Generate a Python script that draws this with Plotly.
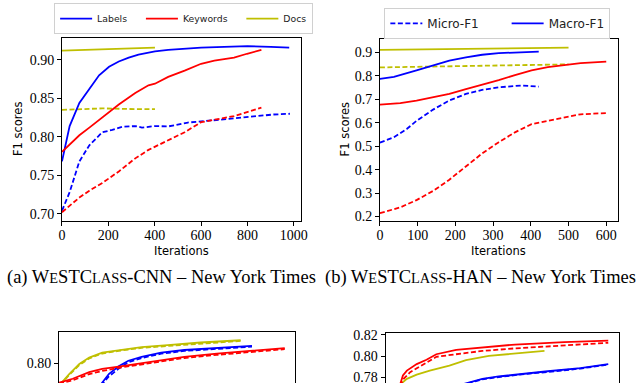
import plotly.graph_objects as go

BLUE = "#0000ff"
RED = "#ff0000"
YEL = "#bfbf00"

# ---------- (a) WeSTClass-CNN ----------
a_lab_mac_x = [0, 33, 75, 118, 160, 203, 245, 288, 330, 401, 458, 600, 742, 800, 900, 980]
a_lab_mac_y = [0.768, 0.814, 0.844, 0.863, 0.880, 0.891, 0.898, 0.903, 0.907, 0.911, 0.913, 0.916, 0.917, 0.918, 0.917, 0.916]
a_lab_mic_x = [0, 33, 75, 118, 174, 217, 260, 316, 345, 401, 458, 543, 600, 742, 827, 912, 983]
a_lab_mic_y = [0.704, 0.728, 0.768, 0.789, 0.806, 0.809, 0.813, 0.814, 0.812, 0.814, 0.8135, 0.8186, 0.820, 0.824, 0.827, 0.829, 0.830]
a_kw_mac_x = [0, 75, 118, 174, 245, 316, 373, 401, 458, 529, 600, 657, 742, 798, 860]
a_kw_mac_y = [0.7805, 0.802, 0.812, 0.825, 0.842, 0.857, 0.867, 0.869, 0.878, 0.886, 0.895, 0.899, 0.903, 0.908, 0.913]
a_kw_mic_x = [0, 75, 118, 174, 245, 316, 373, 401, 458, 529, 600, 671, 742, 798, 860]
a_kw_mic_y = [0.702, 0.721, 0.730, 0.740, 0.755, 0.772, 0.783, 0.787, 0.795, 0.806, 0.819, 0.823, 0.827, 0.832, 0.838]
a_doc_x = [0, 174, 316, 401]
a_doc_mac_y = [0.912, 0.914, 0.915, 0.916]
a_doc_mic_y = [0.835, 0.837, 0.836, 0.836]

# ---------- (b) WeSTClass-HAN ----------
b_lab_mac_x = [0, 37, 97, 141, 184, 228, 271, 315, 358, 421]
b_lab_mac_y = [0.787, 0.796, 0.823, 0.844, 0.865, 0.879, 0.890, 0.897, 0.900, 0.903]
b_lab_mic_x = [0, 37, 71, 97, 141, 184, 228, 271, 315, 376, 421]
b_lab_mic_y = [0.515, 0.538, 0.573, 0.608, 0.656, 0.695, 0.723, 0.740, 0.751, 0.759, 0.754]
b_kw_x = [0, 54, 97, 141, 184, 228, 271, 315, 358, 402, 445, 489, 532, 600]
b_kw_mac_y = [0.677, 0.684, 0.694, 0.708, 0.723, 0.743, 0.761, 0.782, 0.803, 0.823, 0.837, 0.847, 0.854, 0.861]
b_kw_mic_y = [0.214, 0.239, 0.270, 0.309, 0.357, 0.413, 0.469, 0.517, 0.559, 0.594, 0.608, 0.624, 0.636, 0.641]
b_doc_x = [0, 250, 500]
b_doc_mac_y = [0.911, 0.916, 0.920]
b_doc_mic_y = [0.836, 0.843, 0.849]

# ---------- (c) bottom-left (partially visible) ----------
c_doc_x = [5, 44, 86, 128, 183, 253, 350, 461, 600, 770]
c_doc_mac_y = [0.773, 0.7863, 0.7988, 0.807, 0.8134, 0.8167, 0.8205, 0.823, 0.8263, 0.8292]
c_doc_mic_y = [0.772, 0.7850, 0.7975, 0.806, 0.8122, 0.8157, 0.8195, 0.822, 0.8253, 0.8283]
c_lab_x = [178, 211, 253, 294, 350, 433, 531, 669, 818]
c_lab_mac_y = [0.773, 0.786, 0.796, 0.803, 0.808, 0.8134, 0.8167, 0.8196, 0.822]
c_lab_mic_y = [0.771, 0.783, 0.793, 0.801, 0.8065, 0.812, 0.8155, 0.8185, 0.821]
c_kw_x = [0, 58, 128, 183, 253, 392, 531, 669, 808, 957]
c_kw_mac_y = [0.775, 0.780, 0.7884, 0.7925, 0.7955, 0.802, 0.808, 0.812, 0.8155, 0.8192]
c_kw_mic_y = [0.774, 0.778, 0.786, 0.790, 0.794, 0.800, 0.8065, 0.8105, 0.814, 0.8178]

# ---------- (d) bottom-right (partially visible) ----------
d_kw_mac_x = [60, 74, 91, 133, 175, 217, 302, 414, 554, 764, 953]
d_kw_mac_y = [0.772, 0.7818, 0.7864, 0.7925, 0.7965, 0.8017, 0.8057, 0.8078, 0.8108, 0.813, 0.8145]
d_kw_mic_x = [62, 77, 105, 161, 217, 302, 414, 554, 764, 953]
d_kw_mic_y = [0.772, 0.7787, 0.7849, 0.7925, 0.7993, 0.8017, 0.8048, 0.8072, 0.8103, 0.8124]
d_doc_x = [60, 91, 133, 189, 273, 344, 442, 554, 680]
d_doc_mac_y = [0.773, 0.7787, 0.7827, 0.7864, 0.791, 0.7962, 0.8002, 0.8026, 0.8048]
d_lab_x = [320, 414, 484, 554, 694, 834, 953]
d_lab_mac_y = [0.773, 0.7787, 0.7809, 0.7827, 0.7858, 0.7888, 0.7925]
d_lab_mic_y = [0.7725, 0.7782, 0.7803, 0.7822, 0.7852, 0.7883, 0.7920]

a_xticks = [0, 200, 400, 600, 800, 1000]
a_yticks = [0.70, 0.75, 0.80, 0.85, 0.90]
b_xticks = [0, 100, 200, 300, 400, 500, 600]
b_yticks = [0.2, 0.3, 0.4, 0.5, 0.6, 0.7, 0.8, 0.9]
c_yticks = [0.80]
d_yticks = [0.78, 0.80, 0.82]

legend_a_names = ["Labels", "Keywords", "Docs"]
legend_a_colors = [BLUE, RED, YEL]
legend_b_names = ["Micro-F1", "Macro-F1"]

SC = "<span style='font-size:14.4px'>"
captions = ["(a) W" + SC + "E</span>STC" + SC + "LASS</span>-CNN – New York Times",
            "(b) W" + SC + "E</span>STC" + SC + "LASS</span>-HAN – New York Times"]

DASH = "5px,2.5px"
LW = 1.8
NB = "\u00a0"

fig = go.Figure()


def line(x, y, color, dash, ax):
    fig.add_trace(go.Scatter(x=x, y=y, mode="lines", showlegend=False,
                             line=dict(color=color, width=LW, dash=dash),
                             xaxis="x" + ax, yaxis="y" + ax, hoverinfo="skip"))


# (a)
line(a_doc_x, a_doc_mac_y, YEL, "solid", "")
line(a_doc_x, a_doc_mic_y, YEL, DASH, "")
line(a_lab_mac_x, a_lab_mac_y, BLUE, "solid", "")
line(a_lab_mic_x, a_lab_mic_y, BLUE, DASH, "")
line(a_kw_mac_x, a_kw_mac_y, RED, "solid", "")
line(a_kw_mic_x, a_kw_mic_y, RED, DASH, "")
# (b)
line(b_doc_x, b_doc_mac_y, YEL, "solid", "2")
line(b_doc_x, b_doc_mic_y, YEL, DASH, "2")
line(b_lab_mac_x, b_lab_mac_y, BLUE, "solid", "2")
line(b_lab_mic_x, b_lab_mic_y, BLUE, DASH, "2")
line(b_kw_x, b_kw_mac_y, RED, "solid", "2")
line(b_kw_x, b_kw_mic_y, RED, DASH, "2")
# (c)
line(c_doc_x, c_doc_mac_y, YEL, "solid", "3")
line(c_doc_x, c_doc_mic_y, YEL, DASH, "3")
line(c_lab_x, c_lab_mac_y, BLUE, "solid", "3")
line(c_lab_x, c_lab_mic_y, BLUE, DASH, "3")
line(c_kw_x, c_kw_mac_y, RED, "solid", "3")
line(c_kw_x, c_kw_mic_y, RED, DASH, "3")
# (d)
line(d_doc_x, d_doc_mac_y, YEL, "solid", "4")
line(d_lab_x, d_lab_mac_y, BLUE, "solid", "4")
line(d_lab_x, d_lab_mic_y, BLUE, DASH, "4")
line(d_kw_mac_x, d_kw_mac_y, RED, "solid", "4")
line(d_kw_mic_x, d_kw_mic_y, RED, DASH, "4")

# legend-only entries (trailing non-breaking spaces widen the column spacing)
pad_a = [3, 3, 0]
for n, c, p in zip(legend_a_names, legend_a_colors, pad_a):
    fig.add_trace(go.Scatter(x=[None], y=[None], mode="lines", name=n + NB * p, legend="legend",
                             line=dict(color=c, width=LW)))
pad_b = [6, 0]
for n, d, p in zip(legend_b_names, [DASH, "solid"], pad_b):
    fig.add_trace(go.Scatter(x=[None], y=[None], mode="lines", name=n + NB * p, legend="legend2",
                             xaxis="x2", yaxis="y2", line=dict(color=BLUE, width=LW, dash=d)))

W, H = 640, 386
TICKF = dict(family="Liberation Serif", size=14, color="black")
SANS = "DejaVu Sans"


def px(a, b):
    return [a / W, b / W]


def py(top, bottom):
    return [max(0, 1 - bottom / H), 1 - top / H]


common_x = dict(showline=True, linecolor="black", linewidth=1, mirror=True, ticks="outside",
                ticklen=4, tickcolor="black", showgrid=False, zeroline=False, tickfont=TICKF,
                ticklabelstandoff=-3)
common_y = dict(showline=True, linecolor="black", linewidth=1, mirror=True, ticks="outside",
                ticklen=4, tickcolor="black", showgrid=False, zeroline=False, tickfont=TICKF)

fig.update_layout(
    width=W, height=H, margin=dict(l=0, r=0, t=0, b=0),
    paper_bgcolor="white", plot_bgcolor="white",
    xaxis=dict(common_x, domain=px(59, 302), range=[0, 1030], tickvals=a_xticks, anchor="y"),
    yaxis=dict(common_y, domain=py(33.3, 221), range=[0.690, 0.929], tickvals=a_yticks,
               tickformat=".2f", anchor="x"),
    xaxis2=dict(common_x, domain=px(382.5, 624.3), range=[0, 630], tickvals=b_xticks, anchor="y2"),
    yaxis2=dict(common_y, domain=py(35, 221), range=[0.179, 0.956], tickvals=b_yticks,
                tickformat=".1f", anchor="x2"),
    xaxis3=dict(showline=True, linecolor="black", linewidth=1, side="top", showticklabels=False,
                ticks="", showgrid=False, zeroline=False, domain=px(56, 296), range=[0, 1000],
                anchor="y3"),
    yaxis3=dict(common_y, domain=py(334, 386), range=[0.7746, 0.8396], tickvals=c_yticks,
                tickformat=".2f", anchor="x3"),
    xaxis4=dict(showline=True, linecolor="black", linewidth=1, side="top", showticklabels=False,
                ticks="", showgrid=False, zeroline=False, domain=px(388.3, 626), range=[0, 1000],
                anchor="y4"),
    yaxis4=dict(common_y, domain=py(334.7, 386), range=[0.7748, 0.8218], tickvals=d_yticks,
                tickformat=".2f", anchor="x4"),
    legend=dict(orientation="h", x=51 / W, y=1 + 2 / H, xanchor="left", yanchor="top",
                bgcolor="white", bordercolor="#d0d0d0", borderwidth=1, itemwidth=32,
                font=dict(family=SANS, size=9.3, color="#222")),
    legend2=dict(orientation="h", x=387 / W, y=1 - 3 / H, xanchor="left", yanchor="top",
                 bgcolor="white", bordercolor="#d0d0d0", borderwidth=1, itemwidth=32,
                 font=dict(family=SANS, size=12, color="#222")),
)


def note(text, x, y, font, angle=0):
    return dict(text=text, x=x / W, y=1 - y / H, xref="paper", yref="paper", xanchor="center",
                yanchor="middle", showarrow=False, textangle=angle, font=font)


SANSF = dict(family=SANS, size=11.5, color="black")
CAPF = dict(family="Liberation Serif", size=18.5, color="black")
ann = [
    note("Iterations", 180.5, 251, SANSF),
    note("Iterations", 503.5, 251, SANSF),
    note("F1 scores", 15, 127, SANSF, -90),
    note("F1 scores", 347, 127, SANSF, -90),
    note(captions[0], 160, 278, CAPF),
    note(captions[1], 485, 278, CAPF),
]
fig.update_layout(annotations=ann)

fig.write_html("out.html", config={"displayModeBar": False},
               post_script="document.body.style.margin='0';document.body.style.overflow='hidden';")
